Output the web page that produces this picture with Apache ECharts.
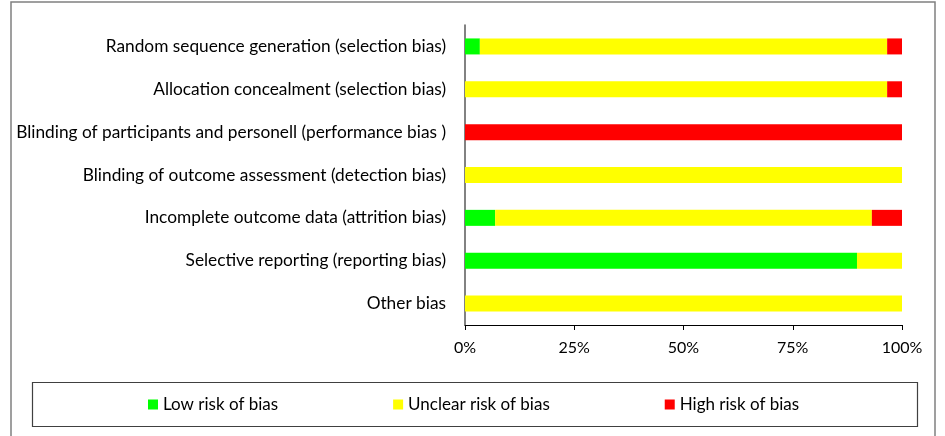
<!DOCTYPE html>
<html><head><meta charset="utf-8">
<script src="https://cdn.jsdelivr.net/npm/echarts@6/dist/echarts.min.js"></script>
<style>html,body{margin:0;padding:0;background:#fff}#c{width:945px;height:436px}</style>
</head><body><div id="c"></div>
<script>
const categories = [
  'Random sequence generation (selection bias)',
  'Allocation concealment (selection bias)',
  'Blinding of participants and personell (performance bias )',
  'Blinding of outcome assessment (detection bias)',
  'Incomplete outcome data (attrition bias)',
  'Selective reporting (reporting bias)',
  'Other bias'
];
const lowRisk     = [3.4, 0, 0, 0, 6.9, 89.7, 0];
const unclearRisk = [93.2, 96.6, 0, 100, 86.2, 10.3, 100];
const highRisk    = [3.4, 3.4, 100, 0, 6.9, 0, 0];
const xTicks = [0, 25, 50, 75, 100];

const FONT = 'Lato';
const chart = echarts.init(document.getElementById('c'));
chart.setOption({
  animation: false,
  textStyle: {fontFamily: FONT},
  grid: {left: 465, right: 43, top: 25, bottom: 111, containLabel: false},
  graphic: [
    {type: 'rect', shape: {x: 11, y: 2, width: 924, height: 440}, style: {fill: 'none', stroke: '#808080', lineWidth: 1.5}},
    {type: 'rect', shape: {x: 32.5, y: 382.5, width: 885, height: 44}, style: {fill: 'none', stroke: '#404040', lineWidth: 1.2}}
  ],
  legend: {
    left: 148, top: 396, padding: 0, itemWidth: 10, itemHeight: 10, itemGap: 115,
    icon: 'rect',
    textStyle: {fontFamily: FONT, fontSize: 17, color: '#000'},
    data: ['Low risk of bias', 'Unclear risk of bias', 'High risk of bias']
  },
  xAxis: {
    type: 'value', min: 0, max: 100, interval: 25,
    axisLine: {show: true, lineStyle: {color: '#000', width: 1}},
    axisTick: {show: true, length: 5, lineStyle: {color: '#000'}},
    splitLine: {show: false},
    axisLabel: {formatter: v => xTicks.includes(v) ? v + '%' : '', fontSize: 16, color: '#000', margin: 15, fontFamily: FONT}
  },
  yAxis: {
    type: 'category', data: categories, inverse: true,
    axisLine: {show: true, lineStyle: {color: '#595959', width: 1.5}},
    axisTick: {show: false},
    axisLabel: {fontSize: 17.3, color: '#000', margin: 19, fontFamily: FONT}
  },
  series: [
    {name: 'Low risk of bias', type: 'bar', stack: 't', data: lowRisk, itemStyle: {color: '#00ff00'}, barWidth: 16},
    {name: 'Unclear risk of bias', type: 'bar', stack: 't', data: unclearRisk, itemStyle: {color: '#ffff00'}, barWidth: 16},
    {name: 'High risk of bias', type: 'bar', stack: 't', data: highRisk, itemStyle: {color: '#ff0000'}, barWidth: 16}
  ]
});
</script></body></html>
